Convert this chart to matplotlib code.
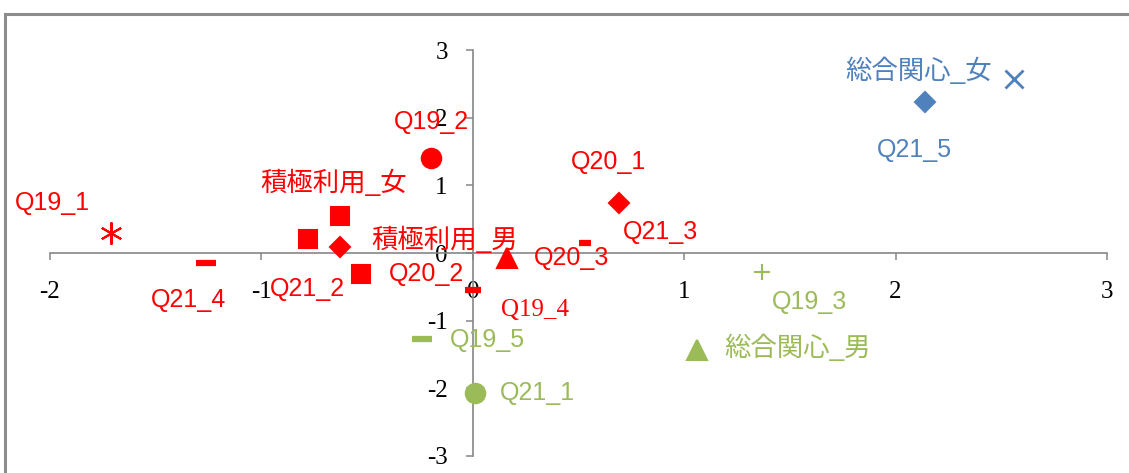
import matplotlib
matplotlib.use('Agg')
import matplotlib.pyplot as plt
from matplotlib.patches import Rectangle

plt.rcParams['font.family'] = ['Liberation Serif']
plt.rcParams['axes.unicode_minus'] = False

# data
labels = ['Q19_1', 'Q19_2', '積極利用_女', 'Q21_2', '積極利用_男', 'Q20_2', 'Q21_4',
          'Q19_4', 'Q20_3', 'Q21_3', 'Q20_1',
          'Q19_3', '総合関心_男', 'Q19_5', 'Q21_1',
          '総合関心_女', 'Q21_5']
x_vals = [-1.71, -0.20, -0.63, -0.78, -0.63, -0.53, -1.26,
          0.00, 0.16, 0.53, 0.69,
          1.37, 1.06, -0.24, 0.01,
          2.56, 2.14]
y_vals = [0.30, 1.41, 0.55, 0.21, 0.09, -0.31, -0.15,
          -0.55, -0.07, 0.15, 0.74,
          -0.28, -1.43, -1.27, -2.07,
          2.57, 2.23]
groups = ['積極利用'] * 11 + ['総合関心_男'] * 4 + ['総合関心_女'] * 2

x_ticks = [-2, -1, 0, 1, 2, 3]
y_ticks = [-3, -2, -1, 0, 1, 2, 3]

# styles
group_colors = {'積極利用': '#FF0000', '総合関心_男': '#9BBB59', '総合関心_女': '#4F81BD'}
markers = [(6, 2, 0), 'o', 's', 's', 'D', 's', '_',
           '_', '^', '_', 'D',
           '+', '^', '_', 'o',
           'x', 'D']
msizes = [16, 14, 13, 13, 10, 13, 15,
          12, 14, 9, 10,
          11, 14, 15, 14,
          13, 10]
# label offsets (pixels) from each point
offsets = [(-59, 30), (1, 36), (-6, 33), (0, -50), (105, 8), (66, 0), (-18, -37),
           (62, -20), (65, 0), (76, 11), (-10, 41),
           (47, -30), (101, 2), (65, -1), (63, 0),
           (-95, 9), (-11, -48)]

fig = plt.figure(figsize=(11.29, 4.73), dpi=100)
ax = fig.add_axes([50 / 1129, 17 / 473, 1057 / 1129, 406 / 473])
ax.set_xlim(-2, 3)
ax.set_ylim(-3, 3)
ax.patch.set_visible(False)

# outer chart frame (cropped)
fig.patches.append(Rectangle((5 / 1129, -0.2), 1.5, 1.2 - 14 / 473,
                             transform=fig.transFigure, fill=False,
                             edgecolor='#8C8C8C', linewidth=2.2))

axis_color = '#868686'
ax.spines['left'].set_position(('data', 0))
ax.spines['bottom'].set_position(('data', 0))
ax.spines['top'].set_visible(False)
ax.spines['right'].set_visible(False)
for s in ['left', 'bottom']:
    ax.spines[s].set_color(axis_color)
    ax.spines[s].set_linewidth(1.2)

ax.set_xticks(x_ticks)
ax.set_yticks(y_ticks)
ax.tick_params(direction='out', length=5, width=1.1, color=axis_color, labelsize=18)
ax.tick_params(axis='x', pad=15)
ax.tick_params(axis='y', pad=13)

for i in range(len(labels)):
    col = group_colors[groups[i]]
    mk = markers[i]
    mew = 4.5 if mk == '_' else 2 if mk == 'x' else 1.5
    ax.plot(x_vals[i], y_vals[i], marker=mk, markersize=msizes[i], color=col,
            markeredgewidth=mew, linestyle='none', zorder=3)
    if labels[i] == 'Q19_4':
        fam = ['Liberation Serif']
    else:
        fam = ['Liberation Sans', 'Noto Sans CJK JP']
    fs = 19 if any(ord(c) > 0x3000 for c in labels[i]) else 18
    ax.annotate(labels[i], (x_vals[i], y_vals[i]), xytext=offsets[i],
                textcoords='offset pixels', ha='center', va='center',
                color=col, fontsize=fs, family=fam, zorder=4)

fig.savefig('out.png', dpi=100)
